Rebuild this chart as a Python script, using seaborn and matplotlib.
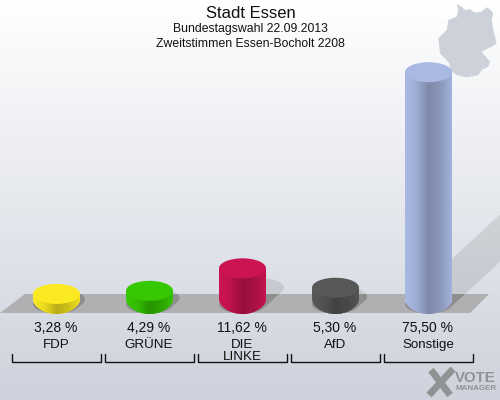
import matplotlib
matplotlib.use("Agg")
import matplotlib.pyplot as plt
import matplotlib.colors as mcolors
from matplotlib.patches import Ellipse, Polygon, PathPatch
from matplotlib.path import Path
import numpy as np
import pandas as pd
import seaborn as sns

parties = ["FDP", "GRÜNE", "DIE\nLINKE", "AfD", "Sonstige"]
shares = [3.28, 4.29, 11.62, 5.30, 75.50]
share_labels = ["3,28 %", "4,29 %", "11,62 %", "5,30 %", "75,50 %"]
bar_colors = ["#fbe921", "#36c800", "#cc1453", "#585858", "#a9b9e3"]

title = "Stadt Essen"
subtitle_1 = "Bundestagswahl 22.09.2013"
subtitle_2 = "Zweitstimmen Essen-Bocholt 2208"

# layout in pixels of the 500x400 picture
PX_PER_UNIT = 3.07
ZERO_Y = 304
CAT_STEP = 93
FIRST_X = 56.5

germany = [(320, 12), (335, 20), (345, 30), (360, 28), (375, 38), (395, 35), (410, 22),
           (420, 28), (430, 40), (425, 60), (430, 90), (440, 130), (425, 140), (395, 155),
           (420, 185), (415, 200), (395, 210), (385, 225), (350, 232), (320, 225),
           (300, 210), (298, 190), (270, 160), (265, 115), (290, 90), (295, 60),
           (320, 50), (325, 30)]


def xd(px):
    return (px - FIRST_X) / CAT_STEP


def yd(py):
    return (ZERO_Y - py) / PX_PER_UNIT


def darker(color, f):
    return tuple(np.array(mcolors.to_rgb(color)) * f)


sns.set_theme(style="white")
plt.rcParams['font.family'] = ['Liberation Sans', 'DejaVu Sans']

fig = plt.figure(figsize=(5, 4), dpi=100)
ax = fig.add_axes([0, 0, 1, 1])

df = pd.DataFrame({"party": parties, "share": shares})
sns.barplot(data=df, x="party", y="share", hue="party", palette=bar_colors, width=47 / CAT_STEP,
            saturation=1, legend=False, ax=ax)
bars = list(ax.patches)

xlim = (xd(0), xd(500))
ylim = (yd(400), yd(0))

# background
bg = mcolors.LinearSegmentedColormap.from_list("bg", ["#ffffff", "#cdd2dc"])
ax.imshow(np.linspace(0, 1, 200).reshape(-1, 1), cmap=bg, extent=(*xlim, *ylim), aspect="auto", zorder=0)

# floor
floor = Polygon([(xd(0), yd(313)), (xd(25), yd(294)), (xd(489), yd(294)), (xd(470), yd(313))],
                closed=True, facecolor="#b0b0b2", edgecolor="none", zorder=1)
ax.add_patch(floor)

rx = 23.5 / CAT_STEP
ry_top = 10 / PX_PER_UNIT
ry_shadow = 9.5 / PX_PER_UNIT
ry_foot = 14 / PX_PER_UNIT
foot_y = yd(300)

for bar, color, value in zip(bars, bar_colors, shares):
    cx = bar.get_x() + bar.get_width() / 2

    # shadow: the foot of the cylinder swept up and to the right
    reach = value * PX_PER_UNIT * 0.5
    dx, dy = reach / CAT_STEP, reach * 0.92 / PX_PER_UNIT
    phi = np.arctan2(dy / ry_shadow, dx / rx)
    head_t = np.linspace(phi - np.pi / 2, phi + np.pi / 2, 40)
    foot_t = head_t + np.pi
    outline = np.vstack([
        np.column_stack([cx + dx + rx * np.cos(head_t), dy + ry_shadow * np.sin(head_t)]),
        np.column_stack([cx + rx * np.cos(foot_t), ry_shadow * np.sin(foot_t)]),
    ])
    ax.add_patch(Polygon(outline, closed=True, facecolor="black", alpha=0.09, edgecolor="none", zorder=2))
    on_floor = Polygon(outline, closed=True, facecolor="black", alpha=0.11, edgecolor="none", zorder=2)
    ax.add_patch(on_floor)
    on_floor.set_clip_path(floor)

    # cylinder body, side shading clipped to body + pointed foot
    left = cx - rx
    right = cx + rx
    arc = np.linspace(np.pi, 2 * np.pi, 40)
    foot_curve = list(zip(cx + rx * np.cos(arc), foot_y - ry_foot * np.abs(np.sin(arc)) ** 1.25))
    verts = [(left, value)] + foot_curve + [(right, value), (left, value)]
    body = PathPatch(Path(verts), transform=ax.transData, facecolor="none", edgecolor="none")
    ax.add_patch(body)
    bar.set_zorder(3)
    bar.set_y(yd(315))
    bar.set_height(value - yd(315))
    bar.set_clip_path(body)
    side = mcolors.LinearSegmentedColormap.from_list(
        "side", [color, darker(color, 0.93), darker(color, 0.74), darker(color, 0.82), darker(color, 0.96)])
    img = ax.imshow(np.linspace(0, 1, 64).reshape(1, -1), cmap=side, aspect="auto", zorder=4,
                    extent=(left, right, yd(315), value))
    img.set_clip_path(body)
    ax.add_patch(Ellipse((cx, value), 2 * rx, 2 * ry_top, facecolor=color, edgecolor="none", zorder=5))

# labels and brackets under each bar
for i, (label, party) in enumerate(zip(share_labels, parties)):
    ax.text(i - 0.01, yd(327.5), label, ha="center", va="center", fontsize=10, color="#111111", zorder=7)
    ax.text(i - 0.005, yd(339), party, ha="center", va="top", fontsize=9.6, color="#111111", linespacing=0.95, zorder=7)
    x0, x1 = i - 44.5 / CAT_STEP, i + 44.5 / CAT_STEP
    ax.plot([x0, x0, x1, x1], [yd(354), yd(362), yd(362), yd(354)], color="#111111", lw=1.0,
            solid_joinstyle="miter", zorder=6)

# heading
ax.text(xd(251), yd(13), title, ha="center", va="center", fontsize=12, color="#111111", zorder=7)
ax.text(xd(250), yd(29), subtitle_1, ha="center", va="center", fontsize=8.8, color="#111111", zorder=7)
ax.text(xd(250), yd(44), subtitle_2, ha="center", va="center", fontsize=8.8, color="#111111", zorder=7)

# map of Germany in the corner
ax.add_patch(Polygon([(xd(350 + px / 3), yd(py / 3)) for px, py in germany], closed=True,
                     facecolor="#ccd1da", edgecolor="none", zorder=1))

# logo
logo = "#909294"
ax.plot([xd(431), xd(450)], [yd(370), yd(395)], color=logo, lw=5, solid_capstyle="butt", zorder=6)
ax.plot([xd(453), xd(429)], [yd(369), yd(395)], color=logo, lw=5, solid_capstyle="butt", zorder=6)
ax.text(xd(455), yd(378), "VOTE", ha="left", va="center", fontsize=10.8, fontweight="bold", color=logo, zorder=7)
ax.text(xd(455), yd(389), "MANAGER", ha="left", va="center", fontsize=5.8, fontweight="bold", color=logo, zorder=7)

ax.set_xlim(*xlim)
ax.set_ylim(*ylim)
ax.axis("off")

fig.savefig("out.png", dpi=100)
plt.close(fig)
